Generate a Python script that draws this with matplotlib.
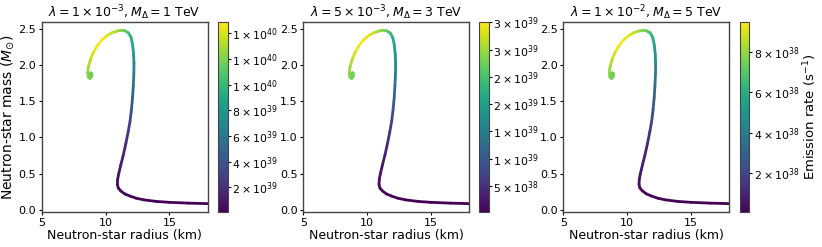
import math
import numpy as np
import matplotlib
matplotlib.use("Agg")
import matplotlib.pyplot as plt
from matplotlib.collections import LineCollection
from matplotlib.ticker import FuncFormatter

# mass-radius curve (same for all three panels)
radius_km = [18.0, 16.5, 15.0, 14.0, 13.0, 12.4, 11.9, 11.5, 11.2, 11.0,
             10.93, 10.95, 11.04, 11.2, 11.4, 11.6, 11.78, 11.92, 12.03, 12.12,
             12.18, 12.22, 12.23, 12.2, 12.12, 12.0, 11.8, 11.5, 11.2, 10.9,
             10.5, 10.1, 9.7, 9.35, 9.05, 8.82, 8.66, 8.6, 8.65, 8.78,
             8.92, 8.93, 8.84, 8.78]
mass_msun = [0.085, 0.092, 0.103, 0.115, 0.137, 0.16, 0.19, 0.22, 0.26, 0.30,
             0.35, 0.42, 0.50, 0.62, 0.76, 0.92, 1.08, 1.22, 1.38, 1.55,
             1.72, 1.88, 2.02, 2.15, 2.28, 2.38, 2.44, 2.47, 2.475, 2.465,
             2.44, 2.40, 2.34, 2.26, 2.17, 2.07, 1.97, 1.89, 1.83, 1.81,
             1.84, 1.88, 1.89, 1.86]

# emission rates (s^-1)
rate_1 = [0.07, 0.09, 0.12, 0.15, 0.18, 0.22, 0.27, 0.30, 0.37, 0.45,
          0.52, 0.67, 0.82, 1.04, 1.34, 1.79, 2.38, 2.98, 3.73, 4.47,
          5.51, 6.41, 7.15, 7.90, 8.64, 9.24, 10.13, 11.18, 11.92, 12.67,
          13.41, 14.16, 14.75, 14.9, 14.30, 13.56, 12.81, 12.37, 12.07, 11.92,
          11.77, 11.70, 11.62, 11.62]  # x 1e39
rate_2 = [0.18, 0.21, 0.28, 0.35, 0.42, 0.53, 0.63, 0.70, 0.88, 1.05,
          1.23, 1.58, 1.93, 2.46, 3.16, 4.21, 5.62, 7.02, 8.78, 10.53,
          12.99, 15.09, 16.85, 18.60, 20.36, 21.76, 23.87, 26.33, 28.08, 29.84,
          31.59, 33.35, 34.75, 35.1, 33.70, 31.94, 30.19, 29.13, 28.43, 28.08,
          27.73, 27.55, 27.38, 27.38]  # x 1e38
rate_3 = [0.47, 0.57, 0.76, 0.95, 1.14, 1.42, 1.71, 1.90, 2.37, 2.85,
          3.32, 4.27, 5.22, 6.64, 8.54, 11.39, 15.18, 18.98, 23.73, 28.47,
          35.11, 40.81, 45.55, 50.30, 55.04, 58.84, 64.53, 71.18, 75.92, 80.67,
          85.41, 90.16, 93.95, 94.9, 91.10, 86.36, 81.61, 78.77, 76.87, 75.92,
          74.97, 74.50, 74.02, 74.02]  # x 1e37

rates = [np.array(rate_1) * 1e39, np.array(rate_2) * 1e38, np.array(rate_3) * 1e37]
titles = [r"$\lambda = 1\times10^{-3}, M_{\Delta} = 1$ TeV",
          r"$\lambda = 5\times10^{-3}, M_{\Delta} = 3$ TeV",
          r"$\lambda = 1\times10^{-2}, M_{\Delta} = 5$ TeV"]


def sci_label(v, pos):
    if v <= 0:
        return ""
    e = int(math.floor(math.log10(v) + 1e-9))
    m = int(v / 10 ** e + 1e-9)
    return r"$%d \times 10^{%d}$" % (m, e)


fig = plt.figure(figsize=(8.22, 2.47), dpi=100)
ax_left = [0.0507, 0.369, 0.6853]
cax_left = [0.2656, 0.5831, 0.9002]
bottom, height = 0.1405, 0.7717

pts = np.column_stack([radius_km, mass_msun]).reshape(-1, 1, 2)
segs = np.concatenate([pts[:-1], pts[1:]], axis=1)

for i in range(3):
    ax = fig.add_axes([ax_left[i], bottom, 0.2019, height])
    cax = fig.add_axes([cax_left[i], bottom, 0.0114, height])
    for sp in ax.spines.values():
        sp.set_color("#444444")
        sp.set_linewidth(1.0)
    r = rates[i]
    seg_vals = 0.5 * (r[:-1] + r[1:])
    norm = plt.Normalize(r.min(), r.max())
    lc = LineCollection(segs, cmap="viridis", norm=norm, linewidths=2.0,
                        capstyle="round", joinstyle="round", snap=False)
    lc.set_array(seg_vals)
    ax.add_collection(lc)
    ax.autoscale_view()
    ax.set_xlim(5, 18)
    ax.set_xticks([5, 10, 15])
    ax.set_yticks([0.0, 0.5, 1.0, 1.5, 2.0, 2.5])
    ax.tick_params(labelsize=8, length=2.5, pad=1.5)
    ax.set_xlabel("Neutron-star radius (km)", fontsize=9, labelpad=1)
    ax.set_title(titles[i], fontsize=9, pad=2)
    if i == 0:
        ax.set_ylabel(r"Neutron-star mass ($M_{\odot}$)", fontsize=10, labelpad=2)
    cb = fig.colorbar(lc, cax=cax)
    cb.outline.set_edgecolor("#444444")
    cb.ax.yaxis.set_major_formatter(FuncFormatter(sci_label))
    cb.ax.tick_params(labelsize=7.8, length=2, pad=1)
    if i == 2:
        cb.set_label(r"Emission rate (s$^{-1}$)", fontsize=9.5, labelpad=2)

fig.savefig("out.png", dpi=100)
